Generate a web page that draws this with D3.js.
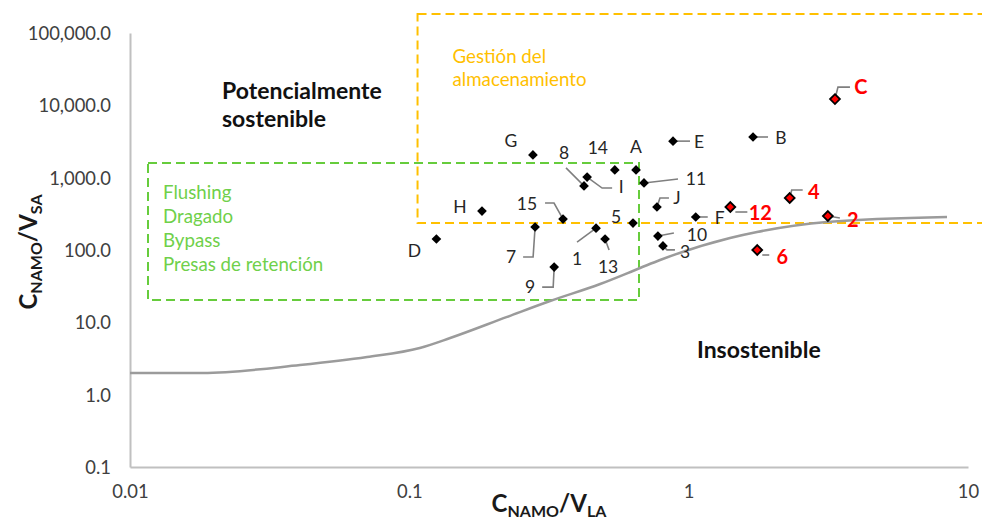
<!DOCTYPE html>
<html>
<head>
<meta charset="utf-8">
<script src="https://cdn.jsdelivr.net/npm/d3@7"></script>
<style>
  html, body { margin: 0; padding: 0; background: #fff; }
  svg { display: block; font-family: Lato, "Open Sans", sans-serif; }
</style>
</head>
<body>
<svg id="chart" width="982" height="519"></svg>
<script>
// Reservoirs (black diamonds)
const names = ["G", "I", "8", "14", "A", "11", "E", "B", "H", "D", "15", "7", "1", "13", "5", "9", "J", "F", "10", "3"];
const ratioLA = [0.277, 0.433, 0.422, 0.544, 0.648, 0.692, 0.879, 1.70, 0.182, 0.125, 0.355, 0.282, 0.466, 0.502, 0.632, 0.330, 0.770, 1.06, 0.776, 0.809];
const ratioSA = [2060, 1020, 770, 1280, 1280, 845, 3200, 3650, 345, 142, 268, 208, 200, 142, 236, 58, 393, 286, 156, 114];

// Highlighted reservoirs (red diamonds)
const redNames = ["C", "12", "4", "2", "6"];
const redLA = [3.34, 1.41, 2.30, 3.15, 1.76];
const redSA = [12200, 393, 524, 295, 100];

// Sustainability threshold curve
const curveLA = [0.01, 0.0182, 0.0406, 0.0706, 0.109, 0.140, 0.224, 0.319, 0.482, 0.670, 0.790, 1.406, 1.757, 3.13, 8.41];
const curveSA = [2.0, 2.0, 2.57, 3.32, 4.42, 6.07, 11.9, 19.7, 33.9, 56.4, 72.8, 146.6, 177.5, 244, 286];

// Axis ticks
const xTicks = [0.01, 0.1, 1, 10];
const yTicks = [0.1, 1, 10, 100, 1000, 10000, 100000];

// Management zones (data-space corners)
const greenZone = { x0: 0.0116, x1: 0.664, y0: 20.4, y1: 1600 };
const orangeZone = { x0: 0.107, x1: 30, y0: 236, y1: 183000 };
const greenLines = ["Flushing", "Dragado", "Bypass", "Presas de retención"];
const orangeLines = ["Gestión del", "almacenamiento"];

// Label placement: offset of label centre from its point, and leader polyline (px)
const labelLayout = {
  G: { dx: -22, dy: -14 },
  I: { dx: 34, dy: 10, leader: [[0, 0], [15, 11], [25, 11]] },
  "8": { dx: -20, dy: -33, leader: [[0, 0], [-18, -18]] },
  "14": { dx: -17, dy: -22 },
  A: { dx: 0, dy: -23 },
  "11": { dx: 52, dy: -4, leader: [[0, 0], [34, -4]] },
  E: { dx: 26, dy: 1, leader: [[0, 0], [17, 0]] },
  B: { dx: 28, dy: 1, leader: [[0, 0], [15, 0]] },
  H: { dx: -22, dy: -4 },
  D: { dx: -22, dy: 12 },
  "15": { dx: -36, dy: -15, leader: [[0, 0], [-9, -16], [-18, -16]] },
  "7": { dx: -24, dy: 30, leader: [[0, 0], [-2, 30], [-12, 30]] },
  "1": { dx: -19, dy: 30, leader: [[0, 0], [-19, 14]] },
  "13": { dx: 3, dy: 28, leader: [[0, 0], [4, 11]] },
  "5": { dx: -17, dy: -6 },
  "9": { dx: -24, dy: 20, leader: [[0, 0], [-1, 20], [-12, 20]] },
  J: { dx: 20, dy: -9, leader: [[0, 0], [3, -9], [12, -9]] },
  F: { dx: 24, dy: 1, leader: [[0, 0], [12, 0]] },
  "10": { dx: 39, dy: -1, leader: [[0, 0], [16, -3]] },
  "3": { dx: 22, dy: 6, leader: [[0, 0], [4, 4], [12, 4]] },
  C: { dx: 26, dy: -12, leader: [[0, 0], [3, -12], [15, -12]] },
  "12": { dx: 30, dy: 6, leader: [[5, 5], [17, 5]] },
  "4": { dx: 24, dy: -6, leader: [[0, 0], [2, -8], [13, -8]] },
  "2": { dx: 25, dy: 4, leader: [[0, 0], [12, 2]] },
  "6": { dx: 25, dy: 7, leader: [[5, 5], [12, 5]] }
};

const svg = d3.select("#chart");
const x = d3.scaleLog().domain([0.01, 10]).range([130, 968]);
const y = d3.scaleLog().domain([0.1, 100000]).range([467, 33]);

// Axes: plain gray lines, no tick marks
const gx = svg.append("g").attr("transform", `translate(0,${y(0.1)})`)
  .call(d3.axisBottom(x).tickValues(xTicks).tickFormat(d3.format("")).tickSize(0).tickPadding(18));
const gy = svg.append("g").attr("transform", `translate(${x(0.01)},0)`)
  .call(d3.axisLeft(y).tickValues(yTicks).tickFormat(d3.format(",.1f")).tickSize(0).tickPadding(19));
[gx, gy].forEach(g => {
  g.select(".domain").attr("stroke", "#c0c0c0").attr("stroke-width", 2);
  g.selectAll("text").attr("font-size", 18.4).attr("fill", "#404040").attr("font-family", "Lato, sans-serif");
});
gy.selectAll("text").attr("dy", "0.35em");

// Axis titles
const xTitle = svg.append("text").attr("x", 549).attr("y", 512).attr("text-anchor", "middle")
  .attr("font-weight", "bold").attr("font-size", 24).attr("fill", "#1a1a1a");
xTitle.append("tspan").text("C");
xTitle.append("tspan").attr("font-size", 16).attr("dy", 5).text("NAMO");
xTitle.append("tspan").attr("dy", -5).text("/V");
xTitle.append("tspan").attr("font-size", 16).attr("dy", 5).text("LA");

const yTitle = svg.append("text").attr("transform", "translate(37,252) rotate(-90)")
  .attr("text-anchor", "middle").attr("font-weight", "bold").attr("font-size", 24).attr("fill", "#1a1a1a");
yTitle.append("tspan").text("C");
yTitle.append("tspan").attr("font-size", 16).attr("dy", 5).text("NAMO");
yTitle.append("tspan").attr("dy", -5).text("/V");
yTitle.append("tspan").attr("font-size", 16).attr("dy", 5).text("SA");

// Management zones
function zoneRect(z, color) {
  svg.append("rect")
    .attr("x", x(z.x0)).attr("y", y(z.y1))
    .attr("width", x(z.x1) - x(z.x0)).attr("height", y(z.y0) - y(z.y1))
    .attr("fill", "none").attr("stroke", color).attr("stroke-width", 2)
    .attr("stroke-dasharray", "9,5");
}
zoneRect(orangeZone, "#ffc000");
zoneRect(greenZone, "#66cc3c");

svg.append("g").selectAll("text").data(orangeLines).join("text")
  .attr("x", x(orangeZone.x0) + 35).attr("y", (d, i) => 63 + i * 23)
  .attr("font-size", 18.7).attr("fill", "#ffc000").text(d => d);

svg.append("g").selectAll("text").data(greenLines).join("text")
  .attr("x", x(greenZone.x0) + 15).attr("y", (d, i) => 199 + i * 24)
  .attr("font-size", 18.7).attr("fill", "#6fd04a").text(d => d);

// Region captions
svg.append("g").selectAll("text").data(["Potencialmente", "sostenible"]).join("text")
  .attr("x", 222).attr("y", (d, i) => 99 + i * 28)
  .attr("font-size", 23).attr("font-weight", "bold").attr("fill", "#111").text(d => d);
svg.append("text").attr("x", 697).attr("y", 358)
  .attr("font-size", 23).attr("font-weight", "bold").attr("fill", "#111").text("Insostenible");

// Threshold curve
const curvePts = curveLA.map((v, i) => [v, curveSA[i]]);
svg.append("path").datum(curvePts)
  .attr("fill", "none").attr("stroke", "#9b9b9b").attr("stroke-width", 2.5)
  .attr("d", d3.line().x(d => x(d[0])).y(d => y(d[1])).curve(d3.curveMonotoneX));

// Points
const black = names.map((n, i) => ({ name: n, lx: ratioLA[i], ly: ratioSA[i], red: false }));
const red = redNames.map((n, i) => ({ name: n, lx: redLA[i], ly: redSA[i], red: true }));
const all = black.concat(red);

const leader = d3.line();
svg.append("g").selectAll("path").data(all.filter(d => labelLayout[d.name].leader)).join("path")
  .attr("fill", "none").attr("stroke", "#7f7f7f").attr("stroke-width", 1.6)
  .attr("d", d => leader(labelLayout[d.name].leader.map(p => [x(d.lx) + p[0], y(d.ly) + p[1]])));

svg.append("g").selectAll("path").data(black).join("path")
  .attr("transform", d => `translate(${x(d.lx)},${y(d.ly)})`)
  .attr("d", d3.symbol().type(d3.symbolDiamond2).size(60)()).attr("fill", "#000");
svg.append("g").selectAll("path").data(red).join("path")
  .attr("transform", d => `translate(${x(d.lx)},${y(d.ly)})`)
  .attr("d", d3.symbol().type(d3.symbolDiamond2).size(62)())
  .attr("fill", "#ff0000").attr("stroke", "#000").attr("stroke-width", 1.8);

svg.append("g").selectAll("text").data(all).join("text")
  .attr("x", d => x(d.lx) + labelLayout[d.name].dx)
  .attr("y", d => y(d.ly) + labelLayout[d.name].dy)
  .attr("text-anchor", "middle").attr("dy", "0.36em")
  .attr("font-size", d => d.red ? 20 : 17.5)
  .attr("font-weight", d => d.red ? "bold" : "normal")
  .attr("fill", d => d.red ? "#ff0000" : "#262626")
  .text(d => d.name);
</script>
</body>
</html>
